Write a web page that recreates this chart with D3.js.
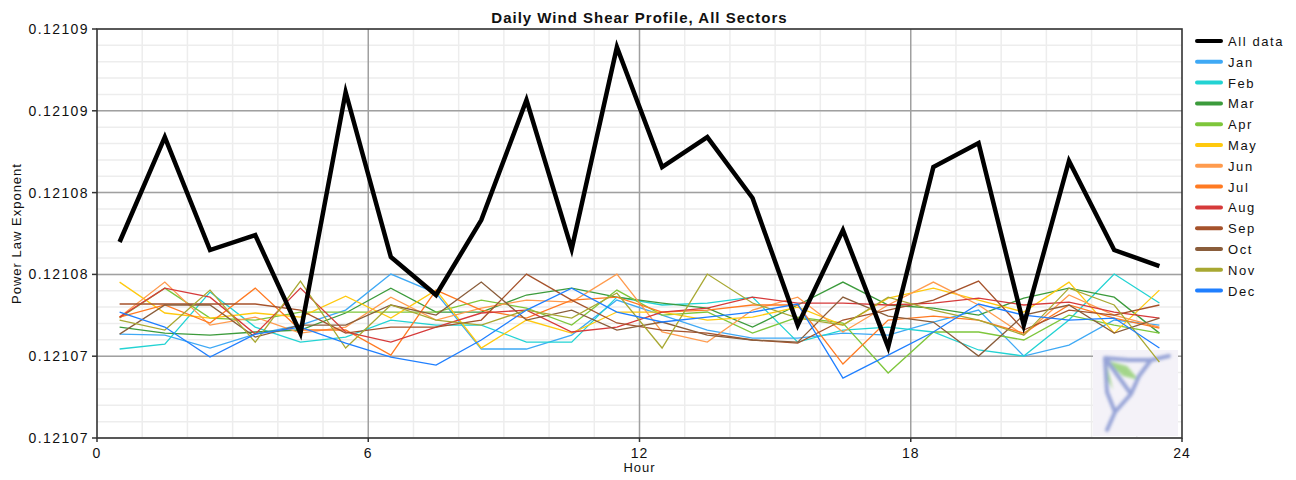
<!DOCTYPE html>
<html>
<head>
<meta charset="utf-8">
<script src="https://cdn.jsdelivr.net/npm/d3@7"></script>
<style>
  body { margin: 0; background: #fff; }
  svg text { font-family: "Liberation Sans", Arial, sans-serif; fill: #111; }
</style>
</head>
<body>
<div id="chart"></div>
<script>
// hour bins (centre of each hour)
const hours = [0.5, 1.5, 2.5, 3.5, 4.5, 5.5, 6.5, 7.5, 8.5, 9.5, 10.5, 11.5,
               12.5, 13.5, 14.5, 15.5, 16.5, 17.5, 18.5, 19.5, 20.5, 21.5, 22.5, 23.5];

const seriesNames = ["All data", "Jan", "Feb", "Mar", "Apr", "May", "Jun",
                     "Jul", "Aug", "Sep", "Oct", "Nov", "Dec"];

const allData = [0.12107798, 0.12108439, 0.12107749, 0.12107840, 0.12107241, 0.12108714,
                 0.12107706, 0.12107474, 0.12107932, 0.12108666, 0.12107755, 0.12108989,
                 0.12108256, 0.12108439, 0.12108067, 0.12107290, 0.12107871, 0.12107156,
                 0.12108256, 0.12108403, 0.12107290, 0.12108293, 0.12107749, 0.12107651];
const jan = [0.12107235, 0.12107229, 0.12107150, 0.12107235, 0.12107290, 0.12107382,
             0.12107602, 0.12107486, 0.12107144, 0.12107144, 0.12107229, 0.12107443,
             0.12107351, 0.12107260, 0.12107211, 0.12107211, 0.12107241, 0.12107229,
             0.12107309, 0.12107382, 0.12107101, 0.12107168, 0.12107321, 0.12107290];
const feb = [0.12107144, 0.12107174, 0.12107492, 0.12107278, 0.12107186, 0.12107217,
             0.12107321, 0.12107290, 0.12107290, 0.12107186, 0.12107186, 0.12107461,
             0.12107413, 0.12107425, 0.12107461, 0.12107186, 0.12107260, 0.12107278,
             0.12107248, 0.12107138, 0.12107101, 0.12107321, 0.12107602, 0.12107425];
const mar = [0.12107278, 0.12107241, 0.12107229, 0.12107248, 0.12107260, 0.12107364,
             0.12107516, 0.12107370, 0.12107370, 0.12107474, 0.12107516, 0.12107461,
             0.12107425, 0.12107394, 0.12107278, 0.12107413, 0.12107553, 0.12107413,
             0.12107394, 0.12107351, 0.12107455, 0.12107516, 0.12107461, 0.12107241];
const apr = [0.12107333, 0.12107516, 0.12107333, 0.12107321, 0.12107370, 0.12107370,
             0.12107370, 0.12107370, 0.12107443, 0.12107394, 0.12107290, 0.12107504,
             0.12107351, 0.12107370, 0.12107241, 0.12107339, 0.12107303, 0.12106997,
             0.12107248, 0.12107248, 0.12107199, 0.12107351, 0.12107290, 0.12107241];
const may = [0.12107553, 0.12107364, 0.12107333, 0.12107364, 0.12107339, 0.12107467,
             0.12107333, 0.12107504, 0.12107150, 0.12107321, 0.12107241, 0.12107370,
             0.12107370, 0.12107321, 0.12107339, 0.12107400, 0.12107290, 0.12107455,
             0.12107516, 0.12107443, 0.12107370, 0.12107553, 0.12107241, 0.12107504];
const jun = [0.12107339, 0.12107553, 0.12107290, 0.12107339, 0.12107241, 0.12107278,
             0.12107461, 0.12107321, 0.12107394, 0.12107443, 0.12107431, 0.12107602,
             0.12107248, 0.12107186, 0.12107382, 0.12107461, 0.12107248, 0.12107413,
             0.12107553, 0.12107413, 0.12107229, 0.12107474, 0.12107351, 0.12107278];
const jul = [0.12107339, 0.12107413, 0.12107303, 0.12107516, 0.12107260, 0.12107260,
             0.12107107, 0.12107504, 0.12107382, 0.12107333, 0.12107443, 0.12107461,
             0.12107370, 0.12107382, 0.12107413, 0.12107413, 0.12107052, 0.12107321,
             0.12107345, 0.12107321, 0.12107241, 0.12107413, 0.12107333, 0.12107272];
const aug = [0.12107339, 0.12107516, 0.12107461, 0.12107235, 0.12107516, 0.12107248,
             0.12107186, 0.12107278, 0.12107364, 0.12107382, 0.12107248, 0.12107278,
             0.12107370, 0.12107394, 0.12107461, 0.12107425, 0.12107425, 0.12107413,
             0.12107425, 0.12107455, 0.12107413, 0.12107431, 0.12107370, 0.12107333];
const sep = [0.12107419, 0.12107419, 0.12107419, 0.12107419, 0.12107382, 0.12107241,
             0.12107278, 0.12107278, 0.12107321, 0.12107602, 0.12107443, 0.12107303,
             0.12107260, 0.12107241, 0.12107199, 0.12107180, 0.12107321, 0.12107382,
             0.12107443, 0.12107559, 0.12107260, 0.12107382, 0.12107351, 0.12107413];
const oct = [0.12107235, 0.12107413, 0.12107413, 0.12107217, 0.12107290, 0.12107290,
             0.12107413, 0.12107351, 0.12107553, 0.12107321, 0.12107382, 0.12107260,
             0.12107309, 0.12107229, 0.12107199, 0.12107186, 0.12107461, 0.12107345,
             0.12107309, 0.12107101, 0.12107351, 0.12107413, 0.12107241, 0.12107333];
const nov = [0.12107321, 0.12107260, 0.12107504, 0.12107186, 0.12107559, 0.12107150,
             0.12107413, 0.12107321, 0.12107290, 0.12107382, 0.12107333, 0.12107486,
             0.12107150, 0.12107602, 0.12107425, 0.12107333, 0.12107290, 0.12107461,
             0.12107382, 0.12107321, 0.12107229, 0.12107516, 0.12107413, 0.12107064];
const dec = [0.12107370, 0.12107278, 0.12107095, 0.12107235, 0.12107278, 0.12107180,
             0.12107095, 0.12107046, 0.12107199, 0.12107382, 0.12107516, 0.12107370,
             0.12107309, 0.12107339, 0.12107370, 0.12107419, 0.12106966, 0.12107107,
             0.12107248, 0.12107419, 0.12107351, 0.12107321, 0.12107333, 0.12107150];

const xTicks = [0, 6, 12, 18, 24];
const yTicks = [0.121066, 0.121071, 0.121076, 0.121081, 0.121086, 0.121091];
const yTickLabels = ["0.12107", "0.12107", "0.12108", "0.12108", "0.12109", "0.12109"];

const colors = ["#000000", "#3fa9f5", "#22d3d3", "#3c9b3c", "#7ec63b", "#ffc90e", "#ff9b4e",
                "#ff7a22", "#d63a3a", "#a5522b", "#8a5d3b", "#a8a832", "#1f7fff"];

const series = [allData, jan, feb, mar, apr, may, jun, jul, aug, sep, oct, nov, dec];

const width = 1296, height = 480;
const margin = { left: 97, top: 29, right: 114, bottom: 42 };

const svg = d3.select("#chart").append("svg")
    .attr("width", width)
    .attr("height", height);

const x = d3.scaleLinear().domain([0, 24]).range([margin.left, width - margin.right]);
const y = d3.scaleLinear().domain([yTicks[0], yTicks[yTicks.length - 1]])
    .range([height - margin.bottom, margin.top]);

// minor grid
const minorX = d3.range(1, 24).filter(h => h % 6 !== 0);
const minorY = d3.range(0, 26).map(i => yTicks[0] + i * 0.000001);
svg.append("g").selectAll("line").data(minorX).enter().append("line")
    .attr("x1", d => x(d)).attr("x2", d => x(d))
    .attr("y1", y.range()[1]).attr("y2", y.range()[0])
    .attr("stroke", "#ededed").attr("stroke-width", 1.5);
svg.append("g").selectAll("line").data(minorY).enter().append("line")
    .attr("x1", x.range()[0]).attr("x2", x.range()[1])
    .attr("y1", d => y(d)).attr("y2", d => y(d))
    .attr("stroke", "#ededed").attr("stroke-width", 1.5);

// major grid
svg.append("g").selectAll("line").data(xTicks.slice(1, -1)).enter().append("line")
    .attr("x1", d => x(d)).attr("x2", d => x(d))
    .attr("y1", y.range()[1]).attr("y2", y.range()[0])
    .attr("stroke", "#a0a0a0").attr("stroke-width", 1.5);
svg.append("g").selectAll("line").data(yTicks.slice(1, -1)).enter().append("line")
    .attr("x1", x.range()[0]).attr("x2", x.range()[1])
    .attr("y1", d => y(d)).attr("y2", d => y(d))
    .attr("stroke", "#a0a0a0").attr("stroke-width", 1.5);

// watermark logo, bottom right (soft, blurred)
const defs = svg.append("defs");
defs.append("filter").attr("id", "soft")
    .append("feGaussianBlur").attr("stdDeviation", 1.6);
const logo = svg.append("g").attr("transform", "translate(1093,350)");
logo.append("rect").attr("width", 85).attr("height", 86).attr("fill", "#f4f2f8");
const mark = logo.append("g").attr("filter", "url(#soft)").attr("opacity", 0.8);
mark.append("path").attr("d", "M12,10 L34,16 L46,30 L30,26 Z").attr("fill", "#8fcf6e");
mark.append("path").attr("d", "M14,14 L20,40 L26,52 L14,28 Z").attr("fill", "#8fcf6e");
mark.append("path").attr("d", "M76,6 L58,10 L46,26 L38,44 L22,62 L14,80 M12,8 L36,10 L58,10 M12,8 L14,42 L22,62 M12,8 L38,44")
    .attr("fill", "none").attr("stroke", "#7f90cf").attr("stroke-width", 4)
    .attr("stroke-linejoin", "round").attr("stroke-linecap", "round");

// lines
const line = d3.line().x((d, i) => x(hours[i])).y(d => y(d));
const monthOrder = d3.range(1, series.length);
svg.append("g").selectAll("path").data(monthOrder).enter().append("path")
    .attr("d", i => line(series[i]))
    .attr("fill", "none")
    .attr("stroke", i => colors[i])
    .attr("stroke-width", 1.3);
svg.append("path")
    .attr("d", line(allData))
    .attr("fill", "none")
    .attr("stroke", colors[0])
    .attr("stroke-width", 4.5)
    .attr("stroke-miterlimit", 10);

// frame
svg.append("rect")
    .attr("x", x.range()[0]).attr("y", y.range()[1])
    .attr("width", x.range()[1] - x.range()[0])
    .attr("height", y.range()[0] - y.range()[1])
    .attr("fill", "none").attr("stroke", "#333").attr("stroke-width", 1.6);

// y axis
const yAxis = svg.append("g").attr("transform", `translate(${margin.left},0)`);
yAxis.selectAll("line").data(yTicks).enter().append("line")
    .attr("x1", -5).attr("x2", 0)
    .attr("y1", d => y(d)).attr("y2", d => y(d))
    .attr("stroke", "#333").attr("stroke-width", 1.5);
yAxis.selectAll("text").data(yTicks).enter().append("text")
    .attr("x", -8).attr("y", d => y(d) + 5)
    .attr("text-anchor", "end")
    .style("font-size", "14px").style("letter-spacing", "1.4px")
    .text((d, i) => yTickLabels[i]);

// x axis
const xAxis = svg.append("g").attr("transform", `translate(0,${height - margin.bottom})`);
xAxis.selectAll("line").data(xTicks).enter().append("line")
    .attr("x1", d => x(d)).attr("x2", d => x(d))
    .attr("y1", 0).attr("y2", 4)
    .attr("stroke", "#333").attr("stroke-width", 1.5);
xAxis.selectAll("text").data(xTicks).enter().append("text")
    .attr("x", d => x(d)).attr("y", 20)
    .attr("text-anchor", "middle")
    .style("font-size", "14px").style("letter-spacing", "1px")
    .text(d => d);

svg.append("text")
    .attr("x", (x.range()[0] + x.range()[1]) / 2).attr("y", 472)
    .attr("text-anchor", "middle")
    .style("font-size", "13px").style("letter-spacing", "1px")
    .text("Hour");

svg.append("text")
    .attr("transform", `translate(21,${(y.range()[0] + y.range()[1]) / 2}) rotate(-90)`)
    .attr("text-anchor", "middle")
    .style("font-size", "13px").style("letter-spacing", "1px")
    .text("Power Law Exponent");

// title
svg.append("text")
    .attr("x", (x.range()[0] + x.range()[1]) / 2).attr("y", 23)
    .attr("text-anchor", "middle")
    .style("font-size", "15px").style("font-weight", "bold").style("letter-spacing", "1px")
    .text("Daily Wind Shear Profile, All Sectors");

// legend
const legend = svg.append("g").attr("transform", "translate(1197,41)");
const items = legend.selectAll("g").data(seriesNames).enter().append("g")
    .attr("transform", (d, i) => `translate(0,${i * 20.8})`);
items.append("line")
    .attr("x1", 0).attr("x2", 24).attr("y1", 0).attr("y2", 0)
    .attr("stroke", (d, i) => colors[i])
    .attr("stroke-width", 4)
    .attr("stroke-linecap", "round");
items.append("text")
    .attr("x", 31).attr("y", 5)
    .style("font-size", "13px").style("letter-spacing", "1.6px")
    .text(d => d);
</script>
</body>
</html>
